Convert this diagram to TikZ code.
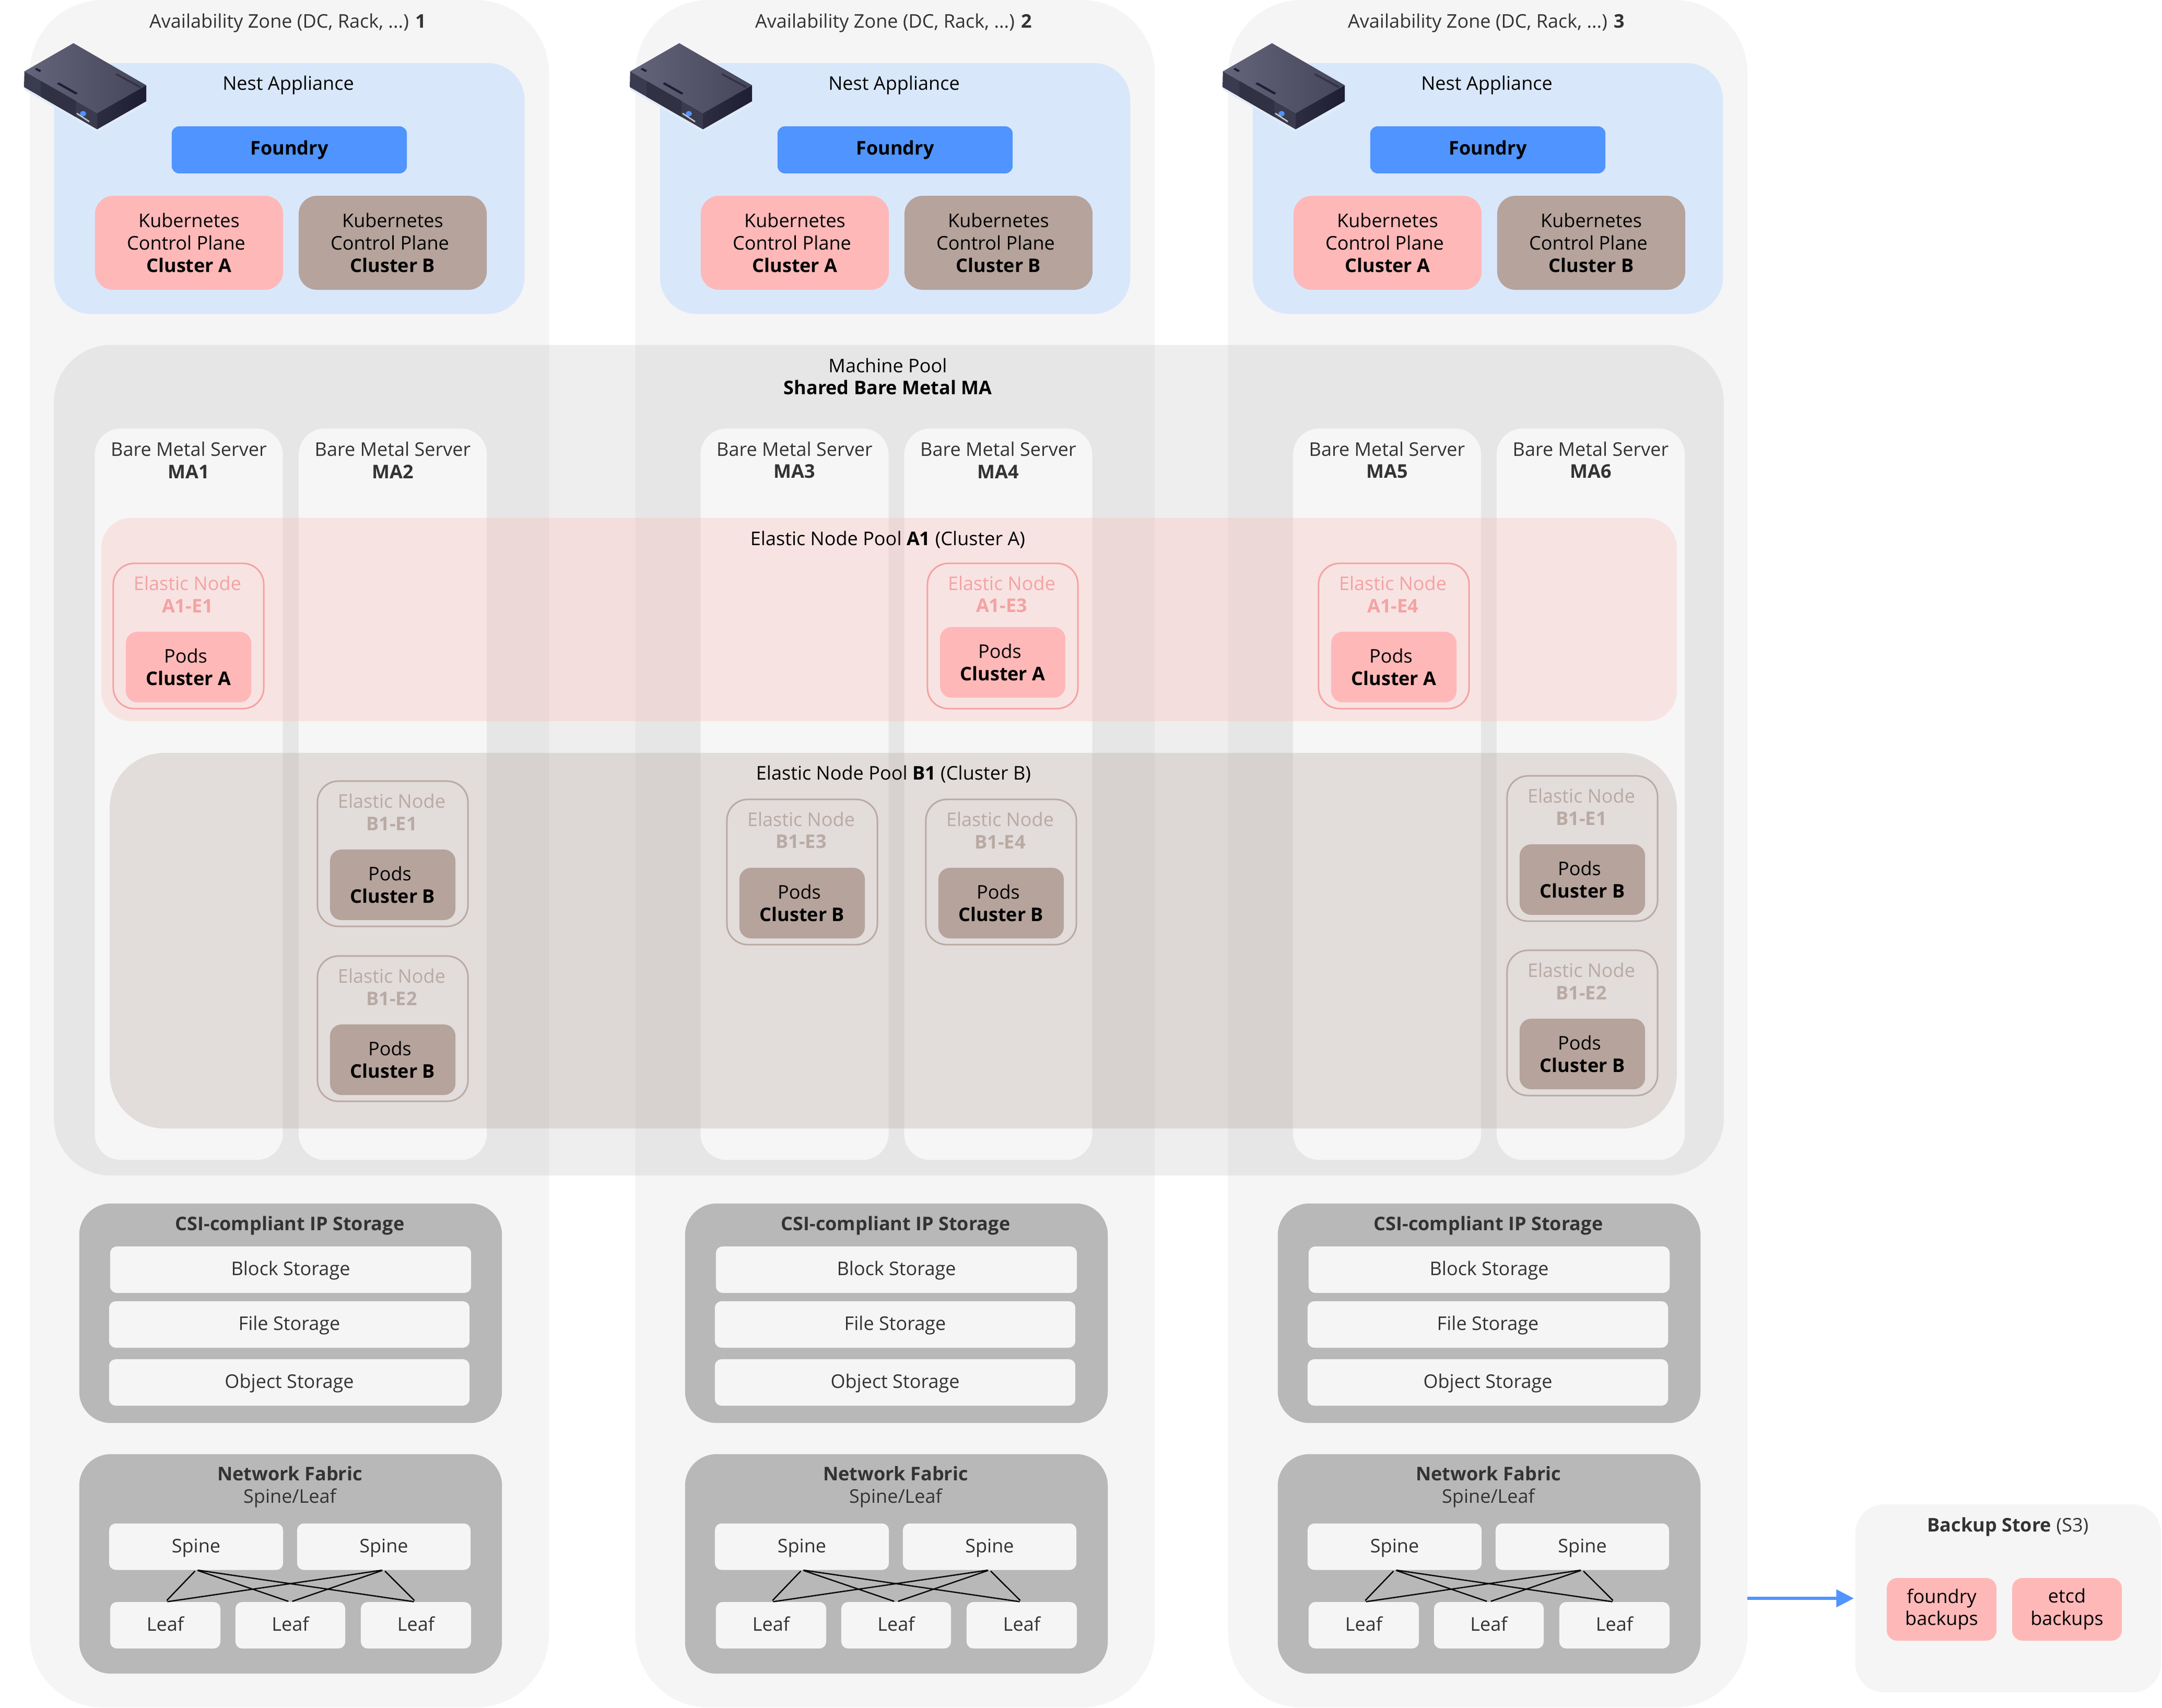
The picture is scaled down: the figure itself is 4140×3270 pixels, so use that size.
\documentclass[tikz,border=0pt]{standalone}
\usepackage{fontspec}
\setmainfont{Open Sans}
\usetikzlibrary{arrows.meta}

\definecolor{zoneGray}{HTML}{F5F5F5}
\definecolor{nestBlue}{HTML}{D9E7FB}
\definecolor{foundryBlue}{HTML}{4F94FF}
\definecolor{fabricGray}{HTML}{B8B8B8}
\definecolor{poolGray}{HTML}{C6C6C6}
\definecolor{serverGray}{HTML}{F6F6F6}
\definecolor{darkText}{HTML}{333333}
\definecolor{fillA}{HTML}{FFB8B8}
\definecolor{fillB}{HTML}{B5A39C}
\definecolor{edgeA}{HTML}{F5A2A2}
\definecolor{edgeB}{HTML}{B9AAA4}
\definecolor{iconLight}{HTML}{64647A}
\definecolor{iconMid}{HTML}{45465A}
\definecolor{iconFront}{HTML}{3A3B4E}
\definecolor{iconGrid}{HTML}{303142}
\definecolor{iconSide}{HTML}{2C2D40}
\definecolor{iconDark}{HTML}{1E1E34}

\tikzset{
    every node/.style = {font = \fontsize{10.25pt}{12.2pt}\selectfont, inner sep = 0, outer sep = 0, align = center},
    zonebox/.style = {fill = zoneGray, rounded corners = 1.4cm, minimum width = 9.94cm, minimum height = 32.68cm},
    nestbox/.style = {fill = nestBlue, rounded corners = 0.7cm, minimum width = 9cm, minimum height = 4.8cm},
    foundrybox/.style = {fill = foundryBlue, rounded corners = 0.14cm, minimum width = 4.5cm, minimum height = 0.9cm},
    controlA/.style = {fill = fillA, rounded corners = 0.35cm, minimum width = 3.6cm, minimum height = 1.8cm},
    controlB/.style = {fill = fillB, rounded corners = 0.35cm, minimum width = 3.6cm, minimum height = 1.8cm},
    serverbox/.style = {fill = serverGray, rounded corners = 0.5cm, minimum width = 3.6cm, minimum height = 14cm},
    elasticA/.style = {draw = edgeA, line width = 0.85pt, rounded corners = 0.4cm, minimum width = 2.88cm, minimum height = 2.78cm},
    elasticB/.style = {draw = edgeB, line width = 0.85pt, rounded corners = 0.4cm, minimum width = 2.88cm, minimum height = 2.78cm},
    podsA/.style = {fill = fillA, rounded corners = 0.22cm, minimum width = 2.4cm, minimum height = 1.35cm},
    podsB/.style = {fill = fillB, rounded corners = 0.22cm, minimum width = 2.4cm, minimum height = 1.35cm},
    fabricbox/.style = {fill = fabricGray, rounded corners = 0.6cm, minimum width = 8.09cm, minimum height = 4.2cm},
    plainbox/.style = {fill = zoneGray, rounded corners = 0.13cm, minimum height = 0.89cm, text = darkText, text height = 0.28cm, text depth = 0.06cm},
    backupbox/.style = {fill = fillA, rounded corners = 0.2cm, minimum width = 2.1cm, minimum height = 1.2cm},
    uplink/.style = {black, line width = 0.7pt, shorten <= 0.03cm, shorten >= 0.04cm}
}

\begin{document}
\begin{tikzpicture}[x = 0.01cm, y = -0.01cm]
    \useasboundingbox (0,0) rectangle (4140,3270);

    % the three availability zones, upper part
    \foreach \n/\dx in {1/0, 2/1160, 3/2295} {
        \begin{scope}[shift = {(\dx,0)}]
            \node [zonebox] (az\n) at (554,1635) {};
            \node [text = darkText] (azlabel\n) at (551,44) {Availability Zone (DC, Rack, ...) \textbf{\n}};
            \node [nestbox] (nest\n) at (554,361) {};
            \node (nestlabel\n) at (552,163) {Nest Appliance};
            \node [foundrybox] (foundry\n) at (554,287) {\textbf{Foundry}};
            \node [controlA] (planeA\n) at (362,465) {Kubernetes\\Control Plane\hspace{0.11cm}\mbox{}\\\textbf{Cluster A}};
            \node [controlB] (planeB\n) at (752,465) {Kubernetes\\Control Plane\hspace{0.11cm}\mbox{}\\\textbf{Cluster B}};

            % appliance picture
            \fill [nestBlue!70!zoneGray] (47,172) -- (185,253) -- (280,201) -- (280,190) -- (47,160) -- cycle;
            \shade [left color = iconLight, right color = iconMid]
                (140.7,82.7) -- (280,163.3) -- (186,216.7) -- (46.7,136.7) -- cycle;
            \fill [iconFront] (46.7,136.7) -- (186,216.7) -- (186,247.7) -- (46,166.7) -- cycle;
            \fill [iconGrid] (78.3,155) -- (145,193) -- (145,224) -- (78.3,185.4) -- cycle;
            \shade [left color = iconSide, right color = iconDark]
                (186,216.7) -- (280,163.3) -- (280,194) -- (186,247.7) -- cycle;
            \fill [iconDark] (112.7,157.7) -- (149,178.3) -- (145,181) -- (109,160.7) -- cycle;
            \fill [iconDark] (70,130) -- (79.3,135) -- (76,138) -- (66.7,132.7) -- cycle;
            \draw [iconDark, line width = 1pt, dash pattern = on 0.4pt off 0.4pt] (222.7,142) -- (268.3,166.7);
            \fill [foundryBlue] (159,217.7) ellipse (6 and 5);
            \draw [black!20, line width = 0.7pt] (147,217) -- (171,233);
        \end{scope}
    }

    % machine pool and its servers
    \node [fill = poolGray, fill opacity = 0.3, rounded corners = 1.1cm, minimum width = 31.96cm, minimum height = 15.9cm] (machinepool) at (1702,1456) {};
    \node (poollabel) at (1700,721) {Machine Pool\\\textbf{Shared Bare Metal MA}};
    \foreach \n/\sx in {1/361.5, 2/752, 3/1521.5, 4/1911.5, 5/2656, 6/3046} {
        \node [serverbox] (server\n) at (\sx,1521) {};
        \node [text = darkText] (serverlabel\n) at (\sx,881) {Bare Metal Server\\\textbf{MA\n}};
    }

    % elastic node pools
    \node [fill = fillA, fill opacity = 0.3, rounded corners = 0.57cm, minimum width = 30.15cm, minimum height = 3.89cm] (poolA) at (1702.5,1186.5) {};
    \node [fill = fillB, fill opacity = 0.3, rounded corners = 1.05cm, minimum width = 29.99cm, minimum height = 7.19cm] (poolB) at (1710.5,1801.5) {};
    \node (poolAlabel) at (1700,1034) {Elastic Node Pool \textbf{A1} (Cluster A)};
    \node (poolBlabel) at (1711,1483) {Elastic Node Pool \textbf{B1} (Cluster B)};

    \foreach \lbl/\ex/\ey/\dy/\cl [count = \i] in {A1-E1/217/1079/0/A, A1-E3/1776/1079/-9/A, A1-E4/2525/1079/0/A,
            B1-E1/608/1496/0/B, B1-E2/608/1831/0/B, B1-E3/1392/1531/0/B, B1-E4/1773/1531/0/B,
            B1-E1/2886/1486/0/B, B1-E2/2886/1820/0/B} {
        \node [elastic\cl] (elastic\i) at (\ex+144,\ey+139) {};
        \node [text = edge\cl] (elasticlabel\i) at (\ex+142,\ey+59) {Elastic Node\\\textbf{\lbl}};
        \node [pods\cl] (pods\i) at (\ex+144,\ey+198.5+\dy) {Pods\hspace{0.11cm}\mbox{}\\\textbf{Cluster \cl}};
    }

    % the three availability zones, lower part
    \foreach \n/\dx in {1/0, 2/1160, 3/2295} {
        \begin{scope}[shift = {(\dx,0)}]
            \node [fabricbox] (storage\n) at (556.5,2515) {};
            \node [text = darkText] (storagelabel\n) at (555,2347) {\textbf{CSI-compliant IP Storage}};
            \node [plainbox, minimum width = 6.91cm] (block\n) at (556.5,2431.5) {Block Storage};
            \node [plainbox, minimum width = 6.9cm] (file\n) at (554,2536.5) {File Storage};
            \node [plainbox, minimum width = 6.9cm] (object\n) at (554,2647.5) {Object Storage};

            \node [fabricbox] (fabric\n) at (556.5,2995) {};
            \node [text = darkText] (fabriclabel\n) at (555,2848) {\textbf{Network Fabric}\\Spine/Leaf};
            \node [plainbox, minimum width = 3.33cm] (spine\n-1) at (375.5,2962) {Spine};
            \node [plainbox, minimum width = 3.32cm] (spine\n-2) at (735,2962) {Spine};
            \node [plainbox, minimum width = 2.11cm] (leaf\n-1) at (316.5,3112.5) {Leaf};
            \node [plainbox, minimum width = 2.1cm] (leaf\n-2) at (556,3112.5) {Leaf};
            \node [plainbox, minimum width = 2.11cm] (leaf\n-3) at (796.5,3112.5) {Leaf};
            \foreach \s in {1,2}
                \foreach \l in {1,2,3}
                    \draw [uplink] (spine\n-\s.south) -- (leaf\n-\l.north);
        \end{scope}
    }

    % backup store
    \node [fill = zoneGray, rounded corners = 0.55cm, minimum width = 5.85cm, minimum height = 3.6cm] (backup) at (3845.5,3061) {};
    \node [text = darkText] (backuplabel) at (3845,2924) {\textbf{Backup Store} (S3)};
    \node [backupbox] (foundrybackup) at (3718,3082) {foundry\\backups};
    \node [backupbox] (etcdbackup) at (3958,3082) {etcd\\backups};
    \coordinate (backupstart) at (3346,3061);
    \draw [foundryBlue, line width = 1.7pt, -{Triangle[length = 0.336cm, width = 0.33cm]}, shorten >= 0.03cm] (backupstart) -- (backup.west |- backupstart);
\end{tikzpicture}
\end{document}
